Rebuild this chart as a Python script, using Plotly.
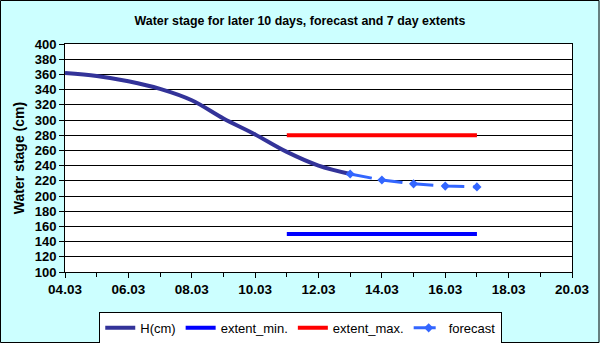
import plotly.graph_objects as go

h_dates = ["2000-03-04", "2000-03-05", "2000-03-06", "2000-03-07", "2000-03-08",
           "2000-03-09", "2000-03-10", "2000-03-11", "2000-03-12", "2000-03-13"]
h_values = [362, 358, 351, 341, 326, 302, 281, 258, 240, 229]

forecast_dates = ["2000-03-13", "2000-03-14", "2000-03-15", "2000-03-16", "2000-03-17"]
forecast_values = [229, 221, 216, 213, 212]

extent_dates = ["2000-03-11", "2000-03-17"]
extent_min = [150, 150]
extent_max = [280, 280]

font = "Liberation Sans, Arial, sans-serif"

fig = go.Figure()
fig.add_trace(go.Scatter(
    x=h_dates, y=h_values, name="H(cm)", mode="lines",
    line=dict(color="#333399", width=4, shape="spline")
))
fig.add_trace(go.Scatter(
    x=extent_dates, y=extent_min, name="extent_min.", mode="lines",
    line=dict(color="#0000FF", width=4)
))
fig.add_trace(go.Scatter(
    x=extent_dates, y=extent_max, name="extent_max.", mode="lines",
    line=dict(color="#FF0000", width=4)
))
fig.add_trace(go.Scatter(
    x=forecast_dates, y=forecast_values, name="forecast", mode="lines+markers",
    line=dict(color="#3366FF", width=3, dash="22px,9px"),
    marker=dict(symbol="diamond", size=7, color="#3366FF")
))

fig.update_layout(
    width=600, height=343,
    paper_bgcolor="#CCFFFF",
    plot_bgcolor="white",
    margin=dict(l=65, r=28, t=44, b=71, autoexpand=False),
    title=dict(text="<b>Water stage for later 10 days, forecast and 7 day extents</b>",
               x=0.5, xanchor="center", y=0.94, yanchor="middle",
               font=dict(family=font, size=12.4, color="black")),
    font=dict(family=font, color="black"),
    legend=dict(orientation="h", x=0.465, xanchor="center", y=-0.175, yanchor="top",
                bgcolor="white", bordercolor="black", borderwidth=1,
                font=dict(family=font, size=13, color="black"),
                tracegroupgap=0),
    shapes=[dict(type="rect", xref="paper", yref="paper", x0=-64.5/507, x1=1 + 27/507,
                 y0=-70.5/228, y1=1 + 43.5/228, line=dict(color="black", width=1))],
)

fig.update_xaxes(
    type="date", range=["2000-03-04", "2000-03-20"], automargin=False,
    tick0="2000-03-04", dtick=2 * 86400000, tickformat="%d.%m",
    ticks="outside", ticklen=5, tickcolor="black",
    minor=dict(dtick=86400000, ticks="outside", ticklen=4, tickcolor="black"),
    showgrid=False, showline=True, linecolor="black", linewidth=1, mirror=True,
    tickfont=dict(family=font, size=13.5, color="black"),
    tickprefix="<b>", ticksuffix="</b>",
)
fig.update_yaxes(
    range=[100, 400], dtick=20, tick0=100, automargin=False,
    ticks="outside", ticklen=5, tickcolor="black",
    showgrid=True, gridcolor="black", gridwidth=1,
    showline=True, linecolor="black", linewidth=1, mirror=True,
    tickfont=dict(family=font, size=13, color="black"),
    tickprefix="<b>", ticksuffix="</b>",
    title=dict(text="<b>Water stage (cm)</b>", font=dict(family=font, size=14, color="black"),
               standoff=6),
)

fig.write_html("out.html", config={"displayModeBar": False},
               post_script="document.body.style.margin='0';")
